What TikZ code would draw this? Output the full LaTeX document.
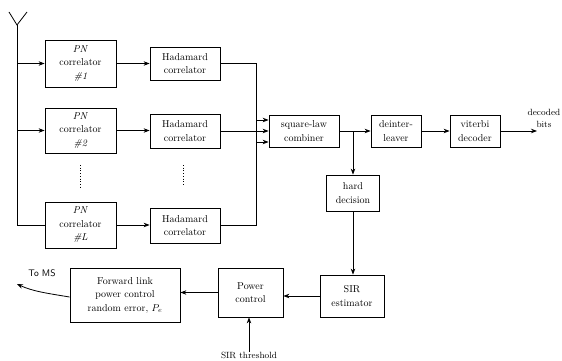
\documentclass[tikz,border=0pt]{standalone}
\usetikzlibrary{arrows.meta}
\begin{document}
\begin{tikzpicture}[x=1pt,y=-1pt,
  blk/.style={draw,line width=0.8pt,align=center,inner sep=0pt,font=\fontsize{10}{13.5}\selectfont},
  arr/.style={line width=0.8pt,-{Stealth[length=6pt,width=4.5pt]}},
  ln/.style={line width=0.8pt}]
\useasboundingbox (0,0) rectangle (562,361);
% blocks
\node[blk,minimum width=71pt,minimum height=47pt] (pn1) at (80.5,63.5) {\textit{PN}\\correlator\\\textit{\#1}};
\node[blk,minimum width=71pt,minimum height=45pt] (pn2) at (80.5,130.5) {\textit{PN}\\correlator\\\textit{\#2}};
\node[blk,minimum width=71pt,minimum height=46pt] (pnl) at (80.5,225) {\textit{PN}\\correlator\\\textit{\#L}};
\node[blk,minimum width=70pt,minimum height=33pt] (h1) at (185,63.5) {Hadamard\\correlator};
\node[blk,minimum width=70pt,minimum height=34pt] (h2) at (185,131) {Hadamard\\correlator};
\node[blk,minimum width=70pt,minimum height=35pt] (hl) at (185,225.5) {Hadamard\\correlator};
\node[blk,minimum width=70pt,minimum height=32pt] (comb) at (304,131) {square-law\\combiner};
\node[blk,minimum width=50pt,minimum height=32pt] (dei) at (396,131) {deinter-\\leaver};
\node[blk,minimum width=50pt,minimum height=32pt] (vit) at (475,131) {viterbi\\decoder};
\node[blk,minimum width=53pt,minimum height=36pt] (hard) at (353,193) {hard\\decision};
\node[blk,minimum width=64pt,minimum height=42pt] (sir) at (352,296) {SIR\\estimator};
\node[blk,minimum width=65pt,minimum height=49pt] (pow) at (250.5,292.5) {Power\\control};
\node[blk,minimum width=110pt,minimum height=54pt] (fwd) at (125,295) {Forward link\\power control\\random error, $P_e$};
% labels
\node[align=center,inner sep=0pt,font=\fontsize{9}{12}\selectfont] (dec) at (544,118) {decoded\\bits};
\node[inner sep=0pt,font=\sffamily\fontsize{9.5}{11}\selectfont] (tms) at (42,273) {To MS};
\node[inner sep=0pt,font=\fontsize{9}{11}\selectfont,anchor=north] (thr) at (249,352) {SIR threshold};
% antenna
\coordinate (ant) at (17,25);
\coordinate (antL) at (9,12);
\coordinate (antR) at (27,12);
\draw[ln] (antL) -- (ant) -- (antR);
\draw[ln] (ant) |- (pnl.west);
\draw[arr] (ant |- pn1.west) -- (pn1.west);
\draw[arr] (ant |- pn2.west) -- (pn2.west);
% PN to Hadamard
\draw[arr] (pn1.east) -- (h1.west |- pn1.east);
\draw[arr] (pn2.east) -- (h2.west |- pn2.east);
\draw[arr] (pnl.east) -- (hl.west |- pnl.east);
% dotted
\draw[line width=0.7pt,dotted] (80,165) -- (80,188);
\draw[line width=0.7pt,dotted] (183,165) -- (183,185);
% Hadamard to combiner
\draw[arr] (h1.east) -- ++(36,0) |- ([yshift=-11pt]comb.west);
\draw[arr] (h2.east) -- (comb.west |- h2.east);
\draw[arr] (hl.east) -- ++(36,0) |- ([yshift=11pt]comb.west);
% chain
\draw[arr] (comb.east) -- (dei.west);
\draw[arr] (dei.east) -- (vit.west);
\coordinate (out) at (537,131);
\draw[arr] (vit.east) -- (out);
\coordinate (br) at (353,131);
\draw[arr] (br) -- (hard.north);
\draw[arr] (hard.south) -- (hard.south |- sir.north);
\draw[arr] (sir.west) -- (sir.west -| pow.east);
\draw[arr] (pow.west) -- (pow.west -| fwd.east);
\draw[arr] (thr.north) -- (thr.north |- pow.south);
\coordinate (ms) at (17,284);
\draw[arr] ([yshift=-2pt]fwd.west) .. controls (45,293) and (32,291) .. (ms);
\end{tikzpicture}
\end{document}
